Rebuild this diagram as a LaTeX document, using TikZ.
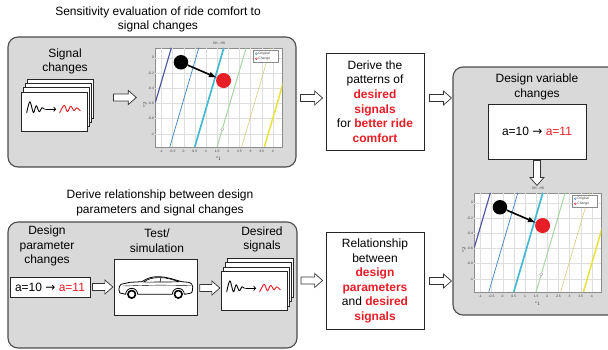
\documentclass[tikz,border=0pt]{standalone}
\usepackage{fontspec}
\setmainfont{Liberation Sans}
\newfontfamily\arrowfont{DejaVu Sans}
\usetikzlibrary{arrows}
\usetikzlibrary{calc}
\usetikzlibrary{positioning}

\definecolor{hired}{RGB}{232,30,38}
\definecolor{panelgray}{RGB}{217,217,217}
\definecolor{panelline}{RGB}{75,75,75}
\definecolor{cdarkblue}{RGB}{70,80,160}
\definecolor{cblue}{RGB}{60,130,195}
\definecolor{ccyan}{RGB}{70,185,210}
\definecolor{cgreen}{RGB}{165,215,160}
\definecolor{ctan}{RGB}{215,195,110}
\definecolor{cyellow}{RGB}{235,225,60}

\newcommand{\textsize}{\fontsize{12}{14.6}\selectfont}
\newcommand{\ticksize}{\fontsize{3.4}{4}\selectfont}
\newcommand{\redbf}[1]{\textcolor{hired}{\bfseries #1}}
\newcommand{\avalue}{a=10 {\arrowfont →} \textcolor{hired}{a=11}}

% contour plot SH - HS, #1 = name of the axes, #2 = centre
\newcommand{\sensplot}[2]{%
  \node[plotframe] (#1) at (#2) {};
  \node[ticktext] (#1title) at ($(#1.north)+(0,-4.7)$) {SH - HS};
  \node[ticktext] (#1xlab) at ($(#1.south)+(0,11.5)$) {x$_1$};
  \node[ticktext, rotate=90] (#1ylab) at ($(#1.west)+(-10.5,7)$) {x$_2$};
  \begin{scope}[shift={($(#1.north west)+(28.35,9.9)$)}, x=22.32pt, y=76.15pt]
    \foreach \v in {-1,-0.5,0,0.5,1,1.5,2,2.5,3,3.5,4}
      \draw[gridline] (\v,0.13) -- (\v,-1.17);
    \foreach \v in {0,-0.2,-0.4,-0.6,-0.8,-1}
      \draw[gridline] (-1.27,\v) -- (4.42,\v);
    \begin{scope}
      \clip (-1.27,-1.17) rectangle (4.42,0.13);
      \draw[cdarkblue, line width=1.1pt] (-1.85,-1.17) -- ++(1.3,1.3);
      \draw[cblue, line width=0.7pt] (-0.62,-1.17) -- ++(1.3,1.3);
      \draw[ccyan, line width=1.7pt] (0.5,-1.17) -- ++(1.3,1.3);
      \draw[cgreen, line width=1pt] (1.5,-1.17) -- ++(1.3,1.3);
      \draw[ctan, line width=0.5pt] (2.6,-1.17) -- ++(1.3,1.3);
      \draw[cyellow, line width=1.5pt] (3.62,-1.17) -- ++(1.3,1.3);
    \end{scope}
    \node[marker] (#1mark) at (1.73,-0.94) {};
    \foreach \v [count=\i] in {-1,-0.5,0,0.5,1,1.5,2,2.5,3,3.5,4}
      \node[ticktext] (#1x\i) at (\v,-1.225) {\v};
    \foreach \v [count=\i] in {0,-0.2,-0.4,-0.6,-0.8,-1}
      \node[ticktext, anchor=east] (#1y\i) at (-1.31,\v) {\v};
    \node[bigdot, fill=black] (#1old) at (-0.12,-0.06) {};
    \node[bigdot, fill=hired, minimum size=15pt] (#1new) at (1.79,-0.30) {};
    \draw[->, line width=1.6pt] (#1old) -- (#1new);
  \end{scope}
  \node[legendbox] (#1key) at ($(#1.north east)+(-17.2,8.5)$) {};
  \node[keydot, draw=cblue] (#1k1) at ($(#1key.west)+(3.5,-2.6)$) {};
  \node[keydot, draw=hired] (#1k2) at ($(#1key.west)+(3.5,2.4)$) {};
  \node[ticktext, anchor=west] (#1t1) at ($(#1k1)+(1.5,0)$) {Original};
  \node[ticktext, anchor=west] (#1t2) at ($(#1k2)+(1.5,0)$) {Change};
}

% stack of signal cards, #1 = name of the front card, #2 = its centre
\newcommand{\sigstack}[2]{%
  \foreach \k in {3,2,1}
    \node[card] (#1\k) at ($(#2)+(2*\k,-4.4*\k)$) {};
  \node[card] (#1) at (#2) {};
  \begin{scope}[shift={(#1.center)}]
    \draw[wave] plot[smooth, tension=0.55] coordinates
      {(-28,1) (-24.8,-10) (-21.3,1) (-18.5,-6) (-15.5,0) (-12.8,-4) (-10.3,-2.5)};
    \draw[wave, -to] (-9,-2.5) -- (1.5,-2.5);
    \draw[wave, hired] plot[smooth, tension=0.55] coordinates
      {(5,1) (9.5,-6.5) (12.7,0) (16,-5.5) (19.3,-1) (22,-4) (25.5,-1)};
  \end{scope}
}

\begin{document}
\begin{tikzpicture}[
  x=1pt, y=-1pt,
  > = latex,
  title/.style = {font=\textsize, align=center, inner sep=0},
  panel/.style = {draw=panelline, fill=panelgray, rounded corners=10pt, line width=1.1pt, inner sep=0},
  whitebox/.style = {draw=black!85, fill=white, line width=0.8pt, inner sep=0, align=center, font=\textsize},
  card/.style = {draw=black!85, fill=white, line width=0.7pt, minimum width=66, minimum height=39, inner sep=0},
  wave/.style = {line width=0.9pt, line cap=round, line join=round},
  plotframe/.style = {draw=black!45, fill=white, line width=0.4pt, minimum width=127, minimum height=99, inner sep=0},
  gridline/.style = {black!13, line width=0.3pt},
  ticktext/.style = {font=\ticksize, inner sep=0.3pt, text=black!75},
  marker/.style = {circle, draw=black!35, fill=white, inner sep=0, minimum size=3.2pt},
  bigdot/.style = {circle, inner sep=0, minimum size=14.5pt},
  legendbox/.style = {draw=black!45, fill=white, line width=0.3pt, minimum width=25, minimum height=11.6, inner sep=0},
  keydot/.style = {circle, line width=0.4pt, inner sep=0, minimum size=2pt},
  blockarrow/.style = {draw=black!80, fill=white, line width=0.7pt, line join=miter,
    to path={let \p1=(\tikztostart), \p2=(\tikztotarget),
        \n1={veclen(\x2-\x1,\y2-\y1)}, \n2={atan2(\y2-\y1,\x2-\x1)} in
      ([shift={(\p1)}, rotate=\n2]0pt,3.5pt)
      -- ([shift={(\p1)}, rotate=\n2]\n1-8pt,3.5pt)
      -- ([shift={(\p1)}, rotate=\n2]\n1-8pt,7pt)
      -- ([shift={(\p1)}, rotate=\n2]\n1,0pt)
      -- ([shift={(\p1)}, rotate=\n2]\n1-8pt,-7pt)
      -- ([shift={(\p1)}, rotate=\n2]\n1-8pt,-3.5pt)
      -- ([shift={(\p1)}, rotate=\n2]0pt,-3.5pt) -- cycle}}
  ]
  \path[fill=white, use as bounding box] (0,0) rectangle (608,349);

  % upper row: sensitivity evaluation
  \node[title] (evaltitle) at (158,19.5) {Sensitivity evaluation of ride comfort to\\signal changes};
  \node[panel, minimum width=288, minimum height=130] (evalpanel) at (152,102) {};
  \node[title] (sigtitle) at (65,61.5) {Signal\\changes};
  \sigstack{sigA}{54.7,111.7}
  \sensplot{plotA}{219,97.5}

  \node[whitebox, minimum width=98, minimum height=97] (derivebox) at (375,101.5)
    {Derive the\\patterns of\\\redbf{desired}\\\redbf{signals}\\for \redbf{better ride}\\\redbf{comfort}};

  % right column: design variable changes
  \node[panel, minimum width=170, minimum height=248] (varpanel) at (538,191) {};
  \node[title] (vartitle) at (537,87) {Design variable\\changes};
  \node[whitebox, minimum width=98, minimum height=55] (valbox) at (537,131.5) {\avalue};
  \sensplot{plotB}{538,242.5}

  % lower row: relationship between parameters and signals
  \node[title] (reltitle) at (160,203) {Derive relationship between design\\parameters and signal changes};
  \node[panel, minimum width=289, minimum height=126] (relpanel) at (152.5,285) {};
  \node[title] (partitle) at (47,246) {Design\\parameter\\changes};
  \node[whitebox, minimum width=80, minimum height=20] (parbox) at (50,287) {\avalue};
  \node[title] (testtitle) at (157,240.5) {Test/\\simulation};
  \node[whitebox, minimum width=83.5, minimum height=56] (carbox) at (156,287) {};
  \node[title] (destitle) at (262,239.5) {Desired\\signals};
  \sigstack{sigB}{254.7,290.8}

  \node[whitebox, minimum width=98, minimum height=97] (relbox) at (375,281)
    {Relationship\\between\\\redbf{design}\\\redbf{parameters}\\and \redbf{desired}\\\redbf{signals}};

  % the car
  \begin{scope}[shift={(carbox.center)}, line width=0.8pt, line join=round]
    \draw (34,6.3) -- (28.3,7.3) arc[start angle=0, end angle=-180, radius=6]
      -- (-18.3,7.3) arc[start angle=0, end angle=-180, radius=6]
      -- (-36,6) .. controls (-37.5,4) and (-37.5,-0.5) .. (-35,-2.7)
      .. controls (-31,-4.5) .. (-26,-4.7) -- (-14.3,-5.3)
      .. controls (-8,-9) and (-5,-10.3) .. (3,-10.3)
      .. controls (10,-10.3) and (16,-8) .. (25.7,-5.3)
      -- (32.3,-4.7) .. controls (35.5,-4.2) and (36.7,-2) .. (36.7,0)
      -- (36.5,3) .. controls (36.3,5.5) and (35.5,6.3) .. (34,6.3) -- cycle;
    \draw[line width=0.6pt] (-12.5,-4.9) .. controls (-7,-8.6) and (-3,-9.4) .. (4,-9.4)
      .. controls (11,-9.4) and (17,-7.2) .. (23.5,-5.1) -- cycle;
    \draw[line width=0.6pt] (5,-9.4) -- (4,-5);
    \draw[line width=0.4pt] (-33,-1) .. controls (0,-2) .. (35,-1.5);
    \draw[line width=1.6pt, fill=white] (22.3,7.3) circle[radius=3.8];
    \draw[line width=1.6pt, fill=white] (-24.3,7.3) circle[radius=3.8];
  \end{scope}

  % block arrows
  \draw[blockarrow] ($(sigA.east |- plotA.west)+(25.5,0)$) to ($(plotA.west)+(-19,0)$);
  \draw[blockarrow] ($(evalpanel.east)+(4,-4)$) to ($(derivebox.west |- evalpanel.east)+(-3,-4)$);
  \draw[blockarrow] ($(derivebox.east)+(5,-3.5)$) to ($(derivebox.east -| varpanel.west)+(-1,-3.5)$);
  \draw[blockarrow] ($(valbox.south)+(0,1)$) to ($(valbox.south)+(0,26)$);
  \draw[blockarrow] ($(parbox.east)+(2,0)$) to ($(parbox.east -| carbox.west)+(-1,0)$);
  \draw[blockarrow] ($(carbox.east)+(1.5,1)$) to ($(carbox.east -| sigB.west)+(-1.5,1)$);
  \draw[blockarrow] ($(relpanel.east)+(3.5,-4.5)$) to ($(relbox.west |- relpanel.east)+(-3,-4.5)$);
  \draw[blockarrow] ($(relbox.east)+(5,0)$) to ($(relbox.east -| varpanel.west)+(-1,0)$);
\end{tikzpicture}
\end{document}
